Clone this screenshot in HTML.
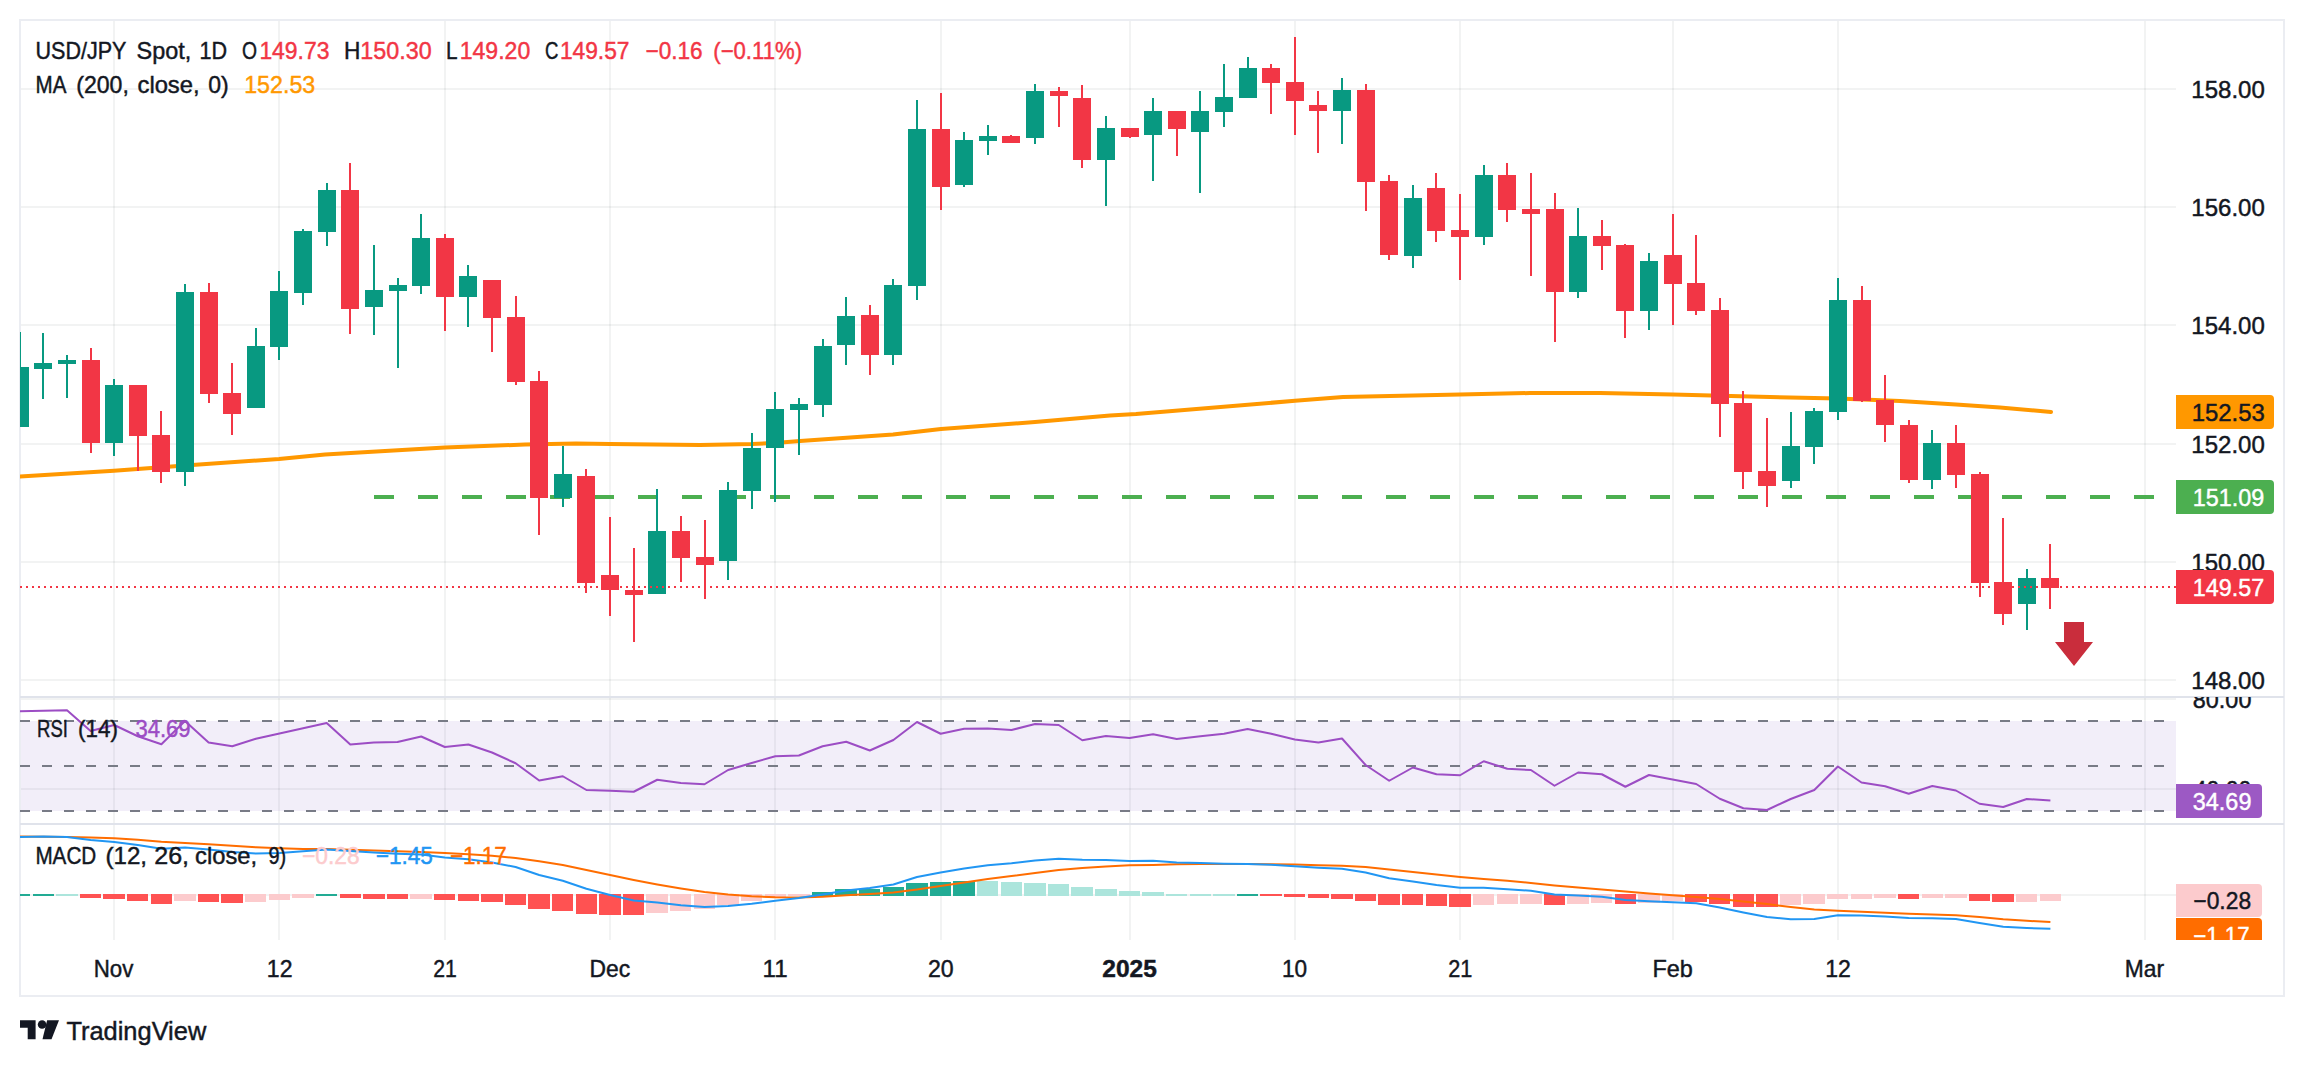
<!DOCTYPE html><html><head><meta charset="utf-8"><title>USD/JPY Spot chart</title>
<style>html,body{margin:0;padding:0;background:#fff}svg{display:block}text{font-family:"Liberation Sans",sans-serif;font-size:24px;fill:#131722;stroke-width:0.45px}</style></head><body>
<svg width="2304" height="1066" viewBox="0 0 2304 1066">
<rect width="2304" height="1066" fill="#fff"/>
<defs><clipPath id="cm"><rect x="20" y="20" width="2156" height="676"/></clipPath><clipPath id="cr"><rect x="20" y="697" width="2264" height="127"/></clipPath><clipPath id="cd"><rect x="20" y="825" width="2264" height="115"/></clipPath></defs>
<g shape-rendering="crispEdges" fill="#2a2e39" fill-opacity="0.06">
<rect x="113" y="20" width="2" height="920"/>
<rect x="278" y="20" width="2" height="920"/>
<rect x="444" y="20" width="2" height="920"/>
<rect x="609" y="20" width="2" height="920"/>
<rect x="774" y="20" width="2" height="920"/>
<rect x="940" y="20" width="2" height="920"/>
<rect x="1129" y="20" width="2" height="920"/>
<rect x="1294" y="20" width="2" height="920"/>
<rect x="1459" y="20" width="2" height="920"/>
<rect x="1672" y="20" width="2" height="920"/>
<rect x="1837" y="20" width="2" height="920"/>
<rect x="2144" y="20" width="2" height="920"/>
<rect x="20" y="88" width="2156" height="2"/>
<rect x="20" y="206" width="2156" height="2"/>
<rect x="20" y="324" width="2156" height="2"/>
<rect x="20" y="443" width="2156" height="2"/>
<rect x="20" y="561" width="2156" height="2"/>
<rect x="20" y="679" width="2156" height="2"/>
<rect x="20" y="698" width="2156" height="2"/>
<rect x="20" y="788" width="2156" height="2"/>
<rect x="20" y="894" width="2156" height="2"/>
</g>
<rect x="20" y="721" width="2156" height="90" fill="#7e57c2" fill-opacity="0.1" shape-rendering="crispEdges"/>
<g shape-rendering="crispEdges" fill="#ebedf2">
<rect x="19" y="19" width="2266" height="2"/><rect x="19" y="995" width="2266" height="2"/><rect x="19" y="19" width="2" height="978"/><rect x="2283" y="19" width="2" height="978"/>
<rect x="20" y="696" width="2264" height="2" fill="#e0e3eb"/><rect x="20" y="823" width="2264" height="2" fill="#e0e3eb"/>
</g>
<line x1="374" y1="497" x2="2154" y2="497" stroke="#4caf50" stroke-width="4" stroke-dasharray="20 24" shape-rendering="crispEdges"/>
<polyline clip-path="url(#cm)" fill="none" stroke="#ff9800" stroke-width="4" stroke-linejoin="round" stroke-linecap="round" points="20,476.5 114,470.75 185,465.5 279,459 325,454.5 445,447.5 525,444.5 576,443.6 610,444 700,445 752,444 775,443 800,441 893,434.5 941,429 1035,422 1110,415.5 1136,414 1295,400.8 1343,397 1460,394.5 1530,393 1600,393 1673,394.5 1750,396.5 1838,398.5 1900,401 1956,404.5 2000,407.5 2051,412"/>
<g clip-path="url(#cm)" shape-rendering="crispEdges">
<rect x="19" y="332" width="2" height="95" fill="#089981"/>
<rect x="11" y="367" width="18" height="60" fill="#089981"/>
<rect x="42" y="333" width="2" height="66" fill="#089981"/>
<rect x="34" y="363" width="18" height="5.5" fill="#089981"/>
<rect x="66" y="355" width="2" height="42.5" fill="#089981"/>
<rect x="58" y="360" width="18" height="4" fill="#089981"/>
<rect x="90" y="348" width="2" height="104.5" fill="#f23645"/>
<rect x="82" y="360" width="18" height="83" fill="#f23645"/>
<rect x="113" y="379" width="2" height="77" fill="#089981"/>
<rect x="105" y="385" width="18" height="58" fill="#089981"/>
<rect x="137" y="385" width="2" height="86" fill="#f23645"/>
<rect x="129" y="385" width="18" height="51" fill="#f23645"/>
<rect x="160" y="411" width="2" height="72" fill="#f23645"/>
<rect x="152" y="435" width="18" height="37" fill="#f23645"/>
<rect x="184" y="284" width="2" height="202" fill="#089981"/>
<rect x="176" y="292" width="18" height="180" fill="#089981"/>
<rect x="208" y="283" width="2" height="120" fill="#f23645"/>
<rect x="200" y="292" width="18" height="102" fill="#f23645"/>
<rect x="231" y="363" width="2" height="72" fill="#f23645"/>
<rect x="223" y="393" width="18" height="21" fill="#f23645"/>
<rect x="255" y="328" width="2" height="80" fill="#089981"/>
<rect x="247" y="346" width="18" height="62" fill="#089981"/>
<rect x="278" y="271" width="2" height="89" fill="#089981"/>
<rect x="270" y="291" width="18" height="56" fill="#089981"/>
<rect x="302" y="229" width="2" height="76" fill="#089981"/>
<rect x="294" y="231" width="18" height="62" fill="#089981"/>
<rect x="326" y="183" width="2" height="63" fill="#089981"/>
<rect x="318" y="190" width="18" height="42" fill="#089981"/>
<rect x="349" y="163" width="2" height="171" fill="#f23645"/>
<rect x="341" y="190" width="18" height="119" fill="#f23645"/>
<rect x="373" y="245" width="2" height="90" fill="#089981"/>
<rect x="365" y="290" width="18" height="17" fill="#089981"/>
<rect x="397" y="278" width="2" height="90" fill="#089981"/>
<rect x="389" y="285" width="18" height="6" fill="#089981"/>
<rect x="420" y="214" width="2" height="80" fill="#089981"/>
<rect x="412" y="238" width="18" height="48" fill="#089981"/>
<rect x="444" y="234" width="2" height="97" fill="#f23645"/>
<rect x="436" y="238" width="18" height="59" fill="#f23645"/>
<rect x="467" y="265" width="2" height="62" fill="#089981"/>
<rect x="459" y="276" width="18" height="21" fill="#089981"/>
<rect x="491" y="280" width="2" height="72" fill="#f23645"/>
<rect x="483" y="280" width="18" height="38" fill="#f23645"/>
<rect x="515" y="296" width="2" height="89" fill="#f23645"/>
<rect x="507" y="317" width="18" height="65" fill="#f23645"/>
<rect x="538" y="371" width="2" height="164" fill="#f23645"/>
<rect x="530" y="381" width="18" height="117" fill="#f23645"/>
<rect x="562" y="446" width="2" height="61" fill="#089981"/>
<rect x="554" y="474" width="18" height="24" fill="#089981"/>
<rect x="585" y="469" width="2" height="124" fill="#f23645"/>
<rect x="577" y="476" width="18" height="106.5" fill="#f23645"/>
<rect x="609" y="517" width="2" height="99" fill="#f23645"/>
<rect x="601" y="575" width="18" height="15" fill="#f23645"/>
<rect x="633" y="548" width="2" height="94" fill="#f23645"/>
<rect x="625" y="590" width="18" height="5" fill="#f23645"/>
<rect x="656" y="489" width="2" height="105" fill="#089981"/>
<rect x="648" y="531" width="18" height="63" fill="#089981"/>
<rect x="680" y="516" width="2" height="66" fill="#f23645"/>
<rect x="672" y="531" width="18" height="27" fill="#f23645"/>
<rect x="704" y="520" width="2" height="79" fill="#f23645"/>
<rect x="696" y="557" width="18" height="8" fill="#f23645"/>
<rect x="727" y="482" width="2" height="98" fill="#089981"/>
<rect x="719" y="490" width="18" height="71" fill="#089981"/>
<rect x="751" y="433" width="2" height="76" fill="#089981"/>
<rect x="743" y="448" width="18" height="43" fill="#089981"/>
<rect x="774" y="392" width="2" height="110" fill="#089981"/>
<rect x="766" y="409" width="18" height="39" fill="#089981"/>
<rect x="798" y="398" width="2" height="57" fill="#089981"/>
<rect x="790" y="404" width="18" height="6" fill="#089981"/>
<rect x="822" y="339" width="2" height="78" fill="#089981"/>
<rect x="814" y="346" width="18" height="59" fill="#089981"/>
<rect x="845" y="297" width="2" height="68" fill="#089981"/>
<rect x="837" y="316" width="18" height="29" fill="#089981"/>
<rect x="869" y="305" width="2" height="70" fill="#f23645"/>
<rect x="861" y="315" width="18" height="40" fill="#f23645"/>
<rect x="892" y="279" width="2" height="86" fill="#089981"/>
<rect x="884" y="285" width="18" height="70" fill="#089981"/>
<rect x="916" y="100" width="2" height="200" fill="#089981"/>
<rect x="908" y="129" width="18" height="157" fill="#089981"/>
<rect x="940" y="93" width="2" height="117" fill="#f23645"/>
<rect x="932" y="129" width="18" height="58" fill="#f23645"/>
<rect x="963" y="132" width="2" height="55" fill="#089981"/>
<rect x="955" y="140" width="18" height="45" fill="#089981"/>
<rect x="987" y="125" width="2" height="30" fill="#089981"/>
<rect x="979" y="136" width="18" height="5" fill="#089981"/>
<rect x="1010" y="135" width="2" height="8" fill="#f23645"/>
<rect x="1002" y="136" width="18" height="7" fill="#f23645"/>
<rect x="1034" y="84" width="2" height="60" fill="#089981"/>
<rect x="1026" y="91" width="18" height="47" fill="#089981"/>
<rect x="1058" y="87" width="2" height="40" fill="#f23645"/>
<rect x="1050" y="91" width="18" height="5" fill="#f23645"/>
<rect x="1081" y="85" width="2" height="83" fill="#f23645"/>
<rect x="1073" y="98" width="18" height="62" fill="#f23645"/>
<rect x="1105" y="116" width="2" height="90" fill="#089981"/>
<rect x="1097" y="128" width="18" height="32" fill="#089981"/>
<rect x="1129" y="128" width="2" height="10" fill="#f23645"/>
<rect x="1121" y="128" width="18" height="9" fill="#f23645"/>
<rect x="1152" y="98" width="2" height="83" fill="#089981"/>
<rect x="1144" y="111" width="18" height="24" fill="#089981"/>
<rect x="1176" y="111" width="2" height="45" fill="#f23645"/>
<rect x="1168" y="111" width="18" height="18" fill="#f23645"/>
<rect x="1199" y="91" width="2" height="102" fill="#089981"/>
<rect x="1191" y="111" width="18" height="21" fill="#089981"/>
<rect x="1223" y="64" width="2" height="63" fill="#089981"/>
<rect x="1215" y="97" width="18" height="15" fill="#089981"/>
<rect x="1247" y="57" width="2" height="41" fill="#089981"/>
<rect x="1239" y="68" width="18" height="30" fill="#089981"/>
<rect x="1270" y="64" width="2" height="50" fill="#f23645"/>
<rect x="1262" y="68" width="18" height="15" fill="#f23645"/>
<rect x="1294" y="37" width="2" height="98" fill="#f23645"/>
<rect x="1286" y="82" width="18" height="19" fill="#f23645"/>
<rect x="1317" y="91" width="2" height="62" fill="#f23645"/>
<rect x="1309" y="105" width="18" height="6" fill="#f23645"/>
<rect x="1341" y="78" width="2" height="66" fill="#089981"/>
<rect x="1333" y="90" width="18" height="21" fill="#089981"/>
<rect x="1365" y="84" width="2" height="127" fill="#f23645"/>
<rect x="1357" y="90" width="18" height="92" fill="#f23645"/>
<rect x="1388" y="175" width="2" height="85" fill="#f23645"/>
<rect x="1380" y="181" width="18" height="74" fill="#f23645"/>
<rect x="1412" y="185" width="2" height="83" fill="#089981"/>
<rect x="1404" y="198" width="18" height="58" fill="#089981"/>
<rect x="1435" y="173" width="2" height="69" fill="#f23645"/>
<rect x="1427" y="188" width="18" height="43" fill="#f23645"/>
<rect x="1459" y="194" width="2" height="86" fill="#f23645"/>
<rect x="1451" y="230" width="18" height="7" fill="#f23645"/>
<rect x="1483" y="165" width="2" height="80" fill="#089981"/>
<rect x="1475" y="175" width="18" height="62" fill="#089981"/>
<rect x="1506" y="163" width="2" height="59" fill="#f23645"/>
<rect x="1498" y="175" width="18" height="35" fill="#f23645"/>
<rect x="1530" y="173" width="2" height="103" fill="#f23645"/>
<rect x="1522" y="209" width="18" height="5" fill="#f23645"/>
<rect x="1554" y="193" width="2" height="149" fill="#f23645"/>
<rect x="1546" y="209" width="18" height="83" fill="#f23645"/>
<rect x="1577" y="208" width="2" height="90" fill="#089981"/>
<rect x="1569" y="236" width="18" height="56" fill="#089981"/>
<rect x="1601" y="220" width="2" height="50" fill="#f23645"/>
<rect x="1593" y="236" width="18" height="10" fill="#f23645"/>
<rect x="1624" y="244" width="2" height="94" fill="#f23645"/>
<rect x="1616" y="245" width="18" height="66" fill="#f23645"/>
<rect x="1648" y="253" width="2" height="77" fill="#089981"/>
<rect x="1640" y="261" width="18" height="50" fill="#089981"/>
<rect x="1672" y="214" width="2" height="111" fill="#f23645"/>
<rect x="1664" y="255" width="18" height="29" fill="#f23645"/>
<rect x="1695" y="235" width="2" height="80" fill="#f23645"/>
<rect x="1687" y="283" width="18" height="28" fill="#f23645"/>
<rect x="1719" y="298" width="2" height="139" fill="#f23645"/>
<rect x="1711" y="310" width="18" height="94" fill="#f23645"/>
<rect x="1742" y="391" width="2" height="98" fill="#f23645"/>
<rect x="1734" y="403" width="18" height="69" fill="#f23645"/>
<rect x="1766" y="418" width="2" height="89" fill="#f23645"/>
<rect x="1758" y="471" width="18" height="15" fill="#f23645"/>
<rect x="1790" y="412" width="2" height="76" fill="#089981"/>
<rect x="1782" y="446" width="18" height="35" fill="#089981"/>
<rect x="1813" y="408" width="2" height="56" fill="#089981"/>
<rect x="1805" y="411" width="18" height="36" fill="#089981"/>
<rect x="1837" y="278" width="2" height="142" fill="#089981"/>
<rect x="1829" y="300" width="18" height="112" fill="#089981"/>
<rect x="1861" y="286" width="2" height="116" fill="#f23645"/>
<rect x="1853" y="300" width="18" height="101" fill="#f23645"/>
<rect x="1884" y="375" width="2" height="67" fill="#f23645"/>
<rect x="1876" y="400" width="18" height="25" fill="#f23645"/>
<rect x="1908" y="420" width="2" height="63" fill="#f23645"/>
<rect x="1900" y="425" width="18" height="55" fill="#f23645"/>
<rect x="1931" y="430" width="2" height="59" fill="#089981"/>
<rect x="1923" y="443" width="18" height="37" fill="#089981"/>
<rect x="1955" y="425" width="2" height="63" fill="#f23645"/>
<rect x="1947" y="443" width="18" height="32" fill="#f23645"/>
<rect x="1979" y="472" width="2" height="125" fill="#f23645"/>
<rect x="1971" y="474" width="18" height="109" fill="#f23645"/>
<rect x="2002" y="518" width="2" height="107" fill="#f23645"/>
<rect x="1994" y="582" width="18" height="32" fill="#f23645"/>
<rect x="2026" y="569" width="2" height="61" fill="#089981"/>
<rect x="2018" y="578" width="18" height="26" fill="#089981"/>
<rect x="2049" y="544" width="2" height="65" fill="#f23645"/>
<rect x="2041" y="578" width="18" height="10" fill="#f23645"/>
</g>
<line x1="20" y1="587" x2="2176" y2="587" stroke="#f23645" stroke-width="2" stroke-dasharray="2 4" shape-rendering="crispEdges"/>
<path d="M2064 622H2084V642H2093L2074 666L2055 642H2064Z" fill="#c92d3c"/>
<line clip-path="url(#cr)" x1="20" y1="721" x2="2176" y2="721" stroke="#787b86" stroke-width="2" stroke-dasharray="10 12" shape-rendering="crispEdges"/>
<line clip-path="url(#cr)" x1="20" y1="766" x2="2176" y2="766" stroke="#787b86" stroke-width="2" stroke-dasharray="10 12" shape-rendering="crispEdges"/>
<line clip-path="url(#cr)" x1="20" y1="811" x2="2176" y2="811" stroke="#787b86" stroke-width="2" stroke-dasharray="10 12" shape-rendering="crispEdges"/>
<polyline clip-path="url(#cr)" fill="none" stroke="#9c4dc4" stroke-width="2" stroke-linejoin="round" points="19.8,711.25 43.4,710.75 67.0,710.25 90.6,731 114.2,725 137.8,736.25 161.4,744.25 185.0,721 208.6,742.5 232.3,746.25 255.9,738.75 279.5,733.5 303.1,728.25 326.7,723 350.3,744.5 373.9,742.5 397.5,742 421.2,736.5 444.8,747 468.4,744.5 492.0,752.5 515.6,763.25 539.2,780.5 562.8,776.25 586.4,790 610.1,790.75 633.7,791.75 657.3,779.75 680.9,783 704.5,784.25 728.1,770 751.7,763 775.3,756.25 798.9,755.5 822.6,746.25 846.2,741.75 869.8,750.5 893.4,740 917.0,722 940.6,733.75 964.2,728.75 987.8,728.5 1011.5,730 1035.1,724 1058.7,725 1082.3,740.25 1105.9,736 1129.5,738 1153.1,734.25 1176.7,739 1200.4,736.25 1224.0,733.75 1247.6,729 1271.2,733.75 1294.8,739.5 1318.4,742.5 1342.0,738.5 1365.6,765 1389.2,780.75 1412.9,767.5 1436.5,774.25 1460.1,775.25 1483.7,761.25 1507.3,768.75 1530.9,770 1554.5,785.75 1578.1,772.5 1601.8,774.25 1625.4,786.75 1649.0,775 1672.6,779.5 1696.2,784 1719.8,798.75 1743.4,808.25 1767.0,810 1790.7,799 1814.3,790 1837.9,766.5 1861.5,782.5 1885.1,786.25 1908.7,793.75 1932.3,786 1955.9,790.5 1979.5,803.75 2003.2,807 2026.8,799 2050.4,800.5"/>
<g clip-path="url(#cd)" shape-rendering="crispEdges">
<rect x="9" y="894" width="21" height="2" fill="#22ab94"/>
<rect x="33" y="894" width="21" height="2" fill="#22ab94"/>
<rect x="56" y="894" width="22" height="2" fill="#ace5dc"/>
<rect x="80" y="894" width="21" height="3.5" fill="#ff5252"/>
<rect x="103" y="894" width="22" height="4.5" fill="#ff5252"/>
<rect x="127" y="894" width="21" height="6.75" fill="#ff5252"/>
<rect x="151" y="894" width="21" height="9.75" fill="#ff5252"/>
<rect x="174" y="894" width="22" height="6.5" fill="#fccbcd"/>
<rect x="198" y="894" width="21" height="7.75" fill="#ff5252"/>
<rect x="221" y="894" width="22" height="8.75" fill="#ff5252"/>
<rect x="245" y="894" width="21" height="7.75" fill="#fccbcd"/>
<rect x="269" y="894" width="21" height="5.5" fill="#fccbcd"/>
<rect x="292" y="894" width="22" height="3.75" fill="#fccbcd"/>
<rect x="316" y="894" width="21" height="2" fill="#22ab94"/>
<rect x="340" y="894" width="21" height="3.5" fill="#ff5252"/>
<rect x="363" y="894" width="22" height="4.5" fill="#ff5252"/>
<rect x="387" y="894" width="21" height="4.5" fill="#ff5252"/>
<rect x="410" y="894" width="22" height="4.5" fill="#fccbcd"/>
<rect x="434" y="894" width="21" height="5.75" fill="#ff5252"/>
<rect x="458" y="894" width="21" height="6.5" fill="#ff5252"/>
<rect x="481" y="894" width="22" height="7.5" fill="#ff5252"/>
<rect x="505" y="894" width="21" height="10.75" fill="#ff5252"/>
<rect x="528" y="894" width="22" height="14.75" fill="#ff5252"/>
<rect x="552" y="894" width="21" height="16.75" fill="#ff5252"/>
<rect x="576" y="894" width="21" height="19.5" fill="#ff5252"/>
<rect x="599" y="894" width="22" height="21" fill="#ff5252"/>
<rect x="623" y="894" width="21" height="21" fill="#ff5252"/>
<rect x="646" y="894" width="22" height="19" fill="#fccbcd"/>
<rect x="670" y="894" width="21" height="17" fill="#fccbcd"/>
<rect x="694" y="894" width="21" height="15" fill="#fccbcd"/>
<rect x="717" y="894" width="22" height="10.5" fill="#fccbcd"/>
<rect x="741" y="894" width="21" height="7" fill="#fccbcd"/>
<rect x="765" y="894" width="21" height="3.5" fill="#fccbcd"/>
<rect x="788" y="894" width="22" height="2" fill="#fccbcd"/>
<rect x="812" y="891.5" width="21" height="4" fill="#22ab94"/>
<rect x="835" y="888.5" width="22" height="7" fill="#22ab94"/>
<rect x="859" y="888.5" width="21" height="7" fill="#22ab94"/>
<rect x="883" y="886.5" width="21" height="9" fill="#22ab94"/>
<rect x="906" y="882.5" width="22" height="13" fill="#22ab94"/>
<rect x="930" y="881.5" width="21" height="14" fill="#22ab94"/>
<rect x="953" y="880.5" width="22" height="15" fill="#22ab94"/>
<rect x="977" y="880.5" width="21" height="15" fill="#ace5dc"/>
<rect x="1001" y="881.5" width="21" height="14" fill="#ace5dc"/>
<rect x="1024" y="882.5" width="22" height="13" fill="#ace5dc"/>
<rect x="1048" y="883.5" width="21" height="12" fill="#ace5dc"/>
<rect x="1071" y="886.5" width="22" height="9" fill="#ace5dc"/>
<rect x="1095" y="888.5" width="22" height="7" fill="#ace5dc"/>
<rect x="1119" y="890.5" width="21" height="5" fill="#ace5dc"/>
<rect x="1142" y="891.5" width="22" height="4" fill="#ace5dc"/>
<rect x="1166" y="894" width="21" height="2" fill="#ace5dc"/>
<rect x="1190" y="894" width="21" height="2" fill="#ace5dc"/>
<rect x="1213" y="894" width="22" height="2" fill="#ace5dc"/>
<rect x="1237" y="894" width="21" height="2" fill="#22ab94"/>
<rect x="1260" y="894" width="22" height="2" fill="#ff5252"/>
<rect x="1284" y="894" width="21" height="2.5" fill="#ff5252"/>
<rect x="1308" y="894" width="21" height="3.5" fill="#ff5252"/>
<rect x="1331" y="894" width="22" height="4.5" fill="#ff5252"/>
<rect x="1355" y="894" width="21" height="7" fill="#ff5252"/>
<rect x="1378" y="894" width="22" height="11" fill="#ff5252"/>
<rect x="1402" y="894" width="21" height="11" fill="#ff5252"/>
<rect x="1426" y="894" width="21" height="11.75" fill="#ff5252"/>
<rect x="1449" y="894" width="22" height="13" fill="#ff5252"/>
<rect x="1473" y="894" width="21" height="10.75" fill="#fccbcd"/>
<rect x="1497" y="894" width="21" height="9.75" fill="#fccbcd"/>
<rect x="1520" y="894" width="22" height="9.75" fill="#fccbcd"/>
<rect x="1544" y="894" width="21" height="11" fill="#ff5252"/>
<rect x="1567" y="894" width="22" height="9.75" fill="#fccbcd"/>
<rect x="1591" y="894" width="21" height="8.75" fill="#fccbcd"/>
<rect x="1615" y="894" width="21" height="9.75" fill="#ff5252"/>
<rect x="1638" y="894" width="22" height="8.5" fill="#fccbcd"/>
<rect x="1662" y="894" width="21" height="7.25" fill="#fccbcd"/>
<rect x="1685" y="894" width="22" height="8.25" fill="#ff5252"/>
<rect x="1709" y="894" width="21" height="9.5" fill="#ff5252"/>
<rect x="1733" y="894" width="21" height="12.5" fill="#ff5252"/>
<rect x="1756" y="894" width="22" height="13.25" fill="#ff5252"/>
<rect x="1780" y="894" width="21" height="11.25" fill="#fccbcd"/>
<rect x="1803" y="894" width="22" height="10" fill="#fccbcd"/>
<rect x="1827" y="894" width="21" height="5.25" fill="#fccbcd"/>
<rect x="1851" y="894" width="21" height="5.25" fill="#fccbcd"/>
<rect x="1874" y="894" width="22" height="4.25" fill="#fccbcd"/>
<rect x="1898" y="894" width="21" height="5.25" fill="#ff5252"/>
<rect x="1922" y="894" width="21" height="4.25" fill="#fccbcd"/>
<rect x="1945" y="894" width="22" height="4.25" fill="#fccbcd"/>
<rect x="1969" y="894" width="21" height="7.25" fill="#ff5252"/>
<rect x="1992" y="894" width="22" height="8" fill="#ff5252"/>
<rect x="2016" y="894" width="21" height="8" fill="#fccbcd"/>
<rect x="2040" y="894" width="21" height="7.25" fill="#fccbcd"/>
</g>
<polyline clip-path="url(#cd)" fill="none" stroke="#ff6d00" stroke-width="2" stroke-linejoin="round" points="19.8,836.5 43.4,836.75 67.0,837 90.6,837.5 114.2,838.25 137.8,839.75 161.4,841.75 185.0,843 208.6,844.25 232.3,845.75 255.9,847.25 279.5,848.25 303.1,849 326.7,849 350.3,849.75 373.9,850.5 397.5,851.25 421.2,852 444.8,853 468.4,854.25 492.0,855.75 515.6,858 539.2,861.25 562.8,865 586.4,870 610.1,875 633.7,880 657.3,884.5 680.9,888.5 704.5,892 728.1,894.5 751.7,896.25 775.3,897.25 798.9,897.5 822.6,896.75 846.2,895.25 869.8,894 893.4,892.5 917.0,889.5 940.6,886 964.2,882.5 987.8,879 1011.5,876 1035.1,873 1058.7,870 1082.3,868 1105.9,866.5 1129.5,865.25 1153.1,865 1176.7,864.25 1200.4,864 1224.0,864 1247.6,864 1271.2,864.25 1294.8,864.5 1318.4,865.25 1342.0,865.75 1365.6,867 1389.2,869.5 1412.9,872 1436.5,874.5 1460.1,877 1483.7,879 1507.3,880.75 1530.9,883 1554.5,885.5 1578.1,887.5 1601.8,889.5 1625.4,891.5 1649.0,893.5 1672.6,895.25 1696.2,897 1719.8,899 1743.4,901.5 1767.0,904 1790.7,907 1814.3,909.5 1837.9,910.75 1861.5,911.75 1885.1,912.75 1908.7,913.75 1932.3,914.5 1955.9,915.25 1979.5,917 2003.2,919.25 2026.8,920.75 2050.4,922"/>
<polyline clip-path="url(#cd)" fill="none" stroke="#2196f3" stroke-width="2" stroke-linejoin="round" points="19.8,837 43.4,836.5 67.0,837 90.6,840 114.2,842 137.8,845 161.4,848.75 185.0,847.5 208.6,849.5 232.3,852 255.9,853.5 279.5,853 303.1,851.25 326.7,849.5 350.3,851 373.9,852.5 397.5,853.75 421.2,854.5 444.8,857.5 468.4,859.25 492.0,862.5 515.6,867 539.2,875 562.8,880.75 586.4,888.75 610.1,895 633.7,900.5 657.3,902.5 680.9,905.25 704.5,907 728.1,906 751.7,903.75 775.3,900.75 798.9,898 822.6,894.5 846.2,890.5 869.8,888 893.4,884.5 917.0,877 940.6,872.5 964.2,868.5 987.8,865.25 1011.5,863.25 1035.1,860.5 1058.7,858.75 1082.3,859.75 1105.9,860 1129.5,861 1153.1,860.75 1176.7,862.5 1200.4,863 1224.0,863.75 1247.6,864 1271.2,864.75 1294.8,866.25 1318.4,867.75 1342.0,868.75 1365.6,872.5 1389.2,878.25 1412.9,881.5 1436.5,885 1460.1,887.75 1483.7,887.75 1507.3,889.25 1530.9,890.75 1554.5,894.5 1578.1,895.5 1601.8,896.75 1625.4,900 1649.0,901.25 1672.6,902.25 1696.2,903.25 1719.8,907.5 1743.4,912.5 1767.0,917 1790.7,919.25 1814.3,919 1837.9,915.25 1861.5,915.5 1885.1,916.5 1908.7,918 1932.3,918.25 1955.9,919 1979.5,923 2003.2,926.75 2026.8,928 2050.4,928.75"/>
<text x="2191.30" y="97.5" textLength="73.51" lengthAdjust="spacingAndGlyphs" style="fill:#131722;stroke:#131722">158.00</text>
<text x="2191.30" y="215.5" textLength="73.51" lengthAdjust="spacingAndGlyphs" style="fill:#131722;stroke:#131722">156.00</text>
<text x="2191.30" y="333.5" textLength="73.51" lengthAdjust="spacingAndGlyphs" style="fill:#131722;stroke:#131722">154.00</text>
<text x="2191.30" y="452.5" textLength="73.51" lengthAdjust="spacingAndGlyphs" style="fill:#131722;stroke:#131722">152.00</text>
<text x="2191.30" y="570.5" textLength="73.51" lengthAdjust="spacingAndGlyphs" style="fill:#131722;stroke:#131722">150.00</text>
<text x="2191.30" y="688.5" textLength="73.51" lengthAdjust="spacingAndGlyphs" style="fill:#131722;stroke:#131722">148.00</text>
<text x="2192.82" y="707.5" textLength="58.61" lengthAdjust="spacingAndGlyphs" style="fill:#131722;stroke:#131722" clip-path="url(#cr)">80.00</text>
<text x="2193.80" y="797.5" textLength="57.62" lengthAdjust="spacingAndGlyphs" style="fill:#131722;stroke:#131722" clip-path="url(#cr)">40.00</text>
<path d="M2176 395H2270Q2274 395 2274 399V425Q2274 429 2270 429H2176Z" fill="#ff9800"/>
<path d="M2176 480H2270Q2274 480 2274 484V510Q2274 514 2270 514H2176Z" fill="#4caf50"/>
<path d="M2176 570H2270Q2274 570 2274 574V600Q2274 604 2270 604H2176Z" fill="#f23645"/>
<path d="M2176 784H2258Q2262 784 2262 788V814Q2262 818 2258 818H2176Z" fill="#9c59c4"/>
<path d="M2176 884H2258Q2262 884 2262 888V913Q2262 917 2258 917H2176Z" fill="#fccbcd"/>
<path clip-path="url(#cd)" d="M2176 918H2258Q2262 918 2262 922V948Q2262 952 2258 952H2176Z" fill="#ff6d00"/>
<text x="2191.81" y="420.5" textLength="72.99" lengthAdjust="spacingAndGlyphs" style="fill:#131722;stroke:#131722">152.53</text>
<text x="2192.85" y="505.5" textLength="71.41" lengthAdjust="spacingAndGlyphs" style="fill:#ffffff;stroke:#ffffff">151.09</text>
<text x="2192.85" y="595.5" textLength="71.41" lengthAdjust="spacingAndGlyphs" style="fill:#ffffff;stroke:#ffffff">149.57</text>
<text x="2192.82" y="809.5" textLength="58.61" lengthAdjust="spacingAndGlyphs" style="fill:#ffffff;stroke:#ffffff">34.69</text>
<text x="2193.35" y="909" textLength="57.74" lengthAdjust="spacingAndGlyphs" style="fill:#131722;stroke:#131722">−0.28</text>
<text x="2193.37" y="943.5" textLength="56.20" lengthAdjust="spacingAndGlyphs" style="fill:#ffffff;stroke:#ffffff" clip-path="url(#cd)">−1.17</text>
<text x="35.51" y="59" textLength="90.91" lengthAdjust="spacingAndGlyphs" style="fill:#131722;stroke:#131722">USD/JPY</text>
<text x="136.52" y="59" textLength="54.66" lengthAdjust="spacingAndGlyphs" style="fill:#131722;stroke:#131722">Spot,</text>
<text x="199.50" y="59" textLength="27.61" lengthAdjust="spacingAndGlyphs" style="fill:#131722;stroke:#131722">1D</text>
<text x="241.89" y="59" textLength="15.04" lengthAdjust="spacingAndGlyphs" style="fill:#131722;stroke:#131722">O</text>
<text x="259.39" y="59" textLength="70.05" lengthAdjust="spacingAndGlyphs" style="fill:#f23645;stroke:#f23645">149.73</text>
<text x="343.91" y="59" textLength="16.40" lengthAdjust="spacingAndGlyphs" style="fill:#131722;stroke:#131722">H</text>
<text x="360.36" y="59" textLength="71.31" lengthAdjust="spacingAndGlyphs" style="fill:#f23645;stroke:#f23645">150.30</text>
<text x="445.97" y="59" textLength="11.53" lengthAdjust="spacingAndGlyphs" style="fill:#131722;stroke:#131722">L</text>
<text x="459.68" y="59" textLength="70.57" lengthAdjust="spacingAndGlyphs" style="fill:#f23645;stroke:#f23645">149.20</text>
<text x="545.03" y="59" textLength="13.40" lengthAdjust="spacingAndGlyphs" style="fill:#131722;stroke:#131722">C</text>
<text x="559.90" y="59" textLength="69.63" lengthAdjust="spacingAndGlyphs" style="fill:#f23645;stroke:#f23645">149.57</text>
<text x="645.56" y="59" textLength="57.12" lengthAdjust="spacingAndGlyphs" style="fill:#f23645;stroke:#f23645">−0.16</text>
<text x="713.28" y="59" textLength="88.79" lengthAdjust="spacingAndGlyphs" style="fill:#f23645;stroke:#f23645">(−0.11%)</text>
<text x="35.59" y="93" textLength="30.81" lengthAdjust="spacingAndGlyphs" style="fill:#131722;stroke:#131722">MA</text>
<text x="76.24" y="93" textLength="52.60" lengthAdjust="spacingAndGlyphs" style="fill:#131722;stroke:#131722">(200,</text>
<text x="137.51" y="93" textLength="62.07" lengthAdjust="spacingAndGlyphs" style="fill:#131722;stroke:#131722">close,</text>
<text x="208.24" y="93" textLength="20.44" lengthAdjust="spacingAndGlyphs" style="fill:#131722;stroke:#131722">0)</text>
<text x="244.16" y="93" textLength="71.10" lengthAdjust="spacingAndGlyphs" style="fill:#ff9800;stroke:#ff9800">152.53</text>
<text x="37.06" y="737" textLength="30.78" lengthAdjust="spacingAndGlyphs" style="fill:#131722;stroke:#131722">RSI</text>
<text x="78.07" y="737" textLength="39.80" lengthAdjust="spacingAndGlyphs" style="fill:#131722;stroke:#131722">(14)</text>
<text x="135.38" y="737" textLength="55.19" lengthAdjust="spacingAndGlyphs" style="fill:#9c4dc4;stroke:#9c4dc4">34.69</text>
<text x="35.38" y="864" textLength="60.86" lengthAdjust="spacingAndGlyphs" style="fill:#131722;stroke:#131722">MACD</text>
<text x="105.49" y="864" textLength="41.57" lengthAdjust="spacingAndGlyphs" style="fill:#131722;stroke:#131722">(12,</text>
<text x="154.26" y="864" textLength="34.81" lengthAdjust="spacingAndGlyphs" style="fill:#131722;stroke:#131722">26,</text>
<text x="195.11" y="864" textLength="61.96" lengthAdjust="spacingAndGlyphs" style="fill:#131722;stroke:#131722">close,</text>
<text x="268.47" y="864" textLength="17.75" lengthAdjust="spacingAndGlyphs" style="fill:#131722;stroke:#131722">9)</text>
<text x="301.95" y="864" textLength="57.64" lengthAdjust="spacingAndGlyphs" style="fill:#fccbcd;stroke:#fccbcd">−0.28</text>
<text x="375.76" y="864" textLength="57.12" lengthAdjust="spacingAndGlyphs" style="fill:#2196f3;stroke:#2196f3">−1.45</text>
<text x="449.97" y="864" textLength="56.71" lengthAdjust="spacingAndGlyphs" style="fill:#ff6d00;stroke:#ff6d00">−1.17</text>
<text x="93.64" y="977" textLength="39.66" lengthAdjust="spacingAndGlyphs" style="fill:#131722;stroke:#131722">Nov</text>
<text x="266.86" y="977" textLength="25.65" lengthAdjust="spacingAndGlyphs" style="fill:#131722;stroke:#131722">12</text>
<text x="433.18" y="977" textLength="23.60" lengthAdjust="spacingAndGlyphs" style="fill:#131722;stroke:#131722">21</text>
<text x="589.45" y="977" textLength="40.65" lengthAdjust="spacingAndGlyphs" style="fill:#131722;stroke:#131722">Dec</text>
<text x="762.63" y="977" textLength="25.03" lengthAdjust="spacingAndGlyphs" style="fill:#131722;stroke:#131722">11</text>
<text x="927.96" y="977" textLength="25.73" lengthAdjust="spacingAndGlyphs" style="fill:#131722;stroke:#131722">20</text>
<text x="1102.29" y="977" textLength="54.52" lengthAdjust="spacingAndGlyphs" style="fill:#131722;stroke:#131722;font-weight:bold">2025</text>
<text x="1281.97" y="977" textLength="25.14" lengthAdjust="spacingAndGlyphs" style="fill:#131722;stroke:#131722">10</text>
<text x="1448.23" y="977" textLength="24.13" lengthAdjust="spacingAndGlyphs" style="fill:#131722;stroke:#131722">21</text>
<text x="1652.44" y="977" textLength="40.38" lengthAdjust="spacingAndGlyphs" style="fill:#131722;stroke:#131722">Feb</text>
<text x="1825.25" y="977" textLength="25.65" lengthAdjust="spacingAndGlyphs" style="fill:#131722;stroke:#131722">12</text>
<text x="2124.73" y="977" textLength="39.32" lengthAdjust="spacingAndGlyphs" style="fill:#131722;stroke:#131722">Mar</text>
<text x="66.40" y="1039.8" textLength="139.87" lengthAdjust="spacingAndGlyphs" style="fill:#131722;stroke:#131722;font-size:26px">TradingView</text>
<g fill="#131722"><path d="M20 1020.3H35.6V1039.2H27.7V1027.7H20Z"/><circle cx="42.1" cy="1024.5" r="4.3"/><path d="M47.1 1020.3H59L51.5 1039.2H42.5Z"/></g>
</svg></body></html>
